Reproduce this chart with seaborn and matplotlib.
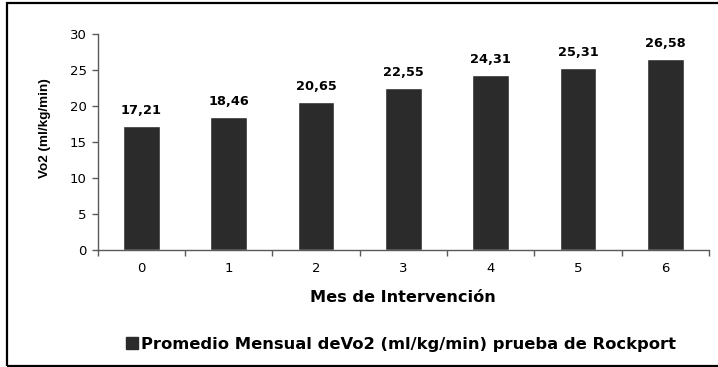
import matplotlib
matplotlib.use("Agg")
import matplotlib.pyplot as plt
from matplotlib.patches import Patch, Rectangle
import pandas as pd
import seaborn as sns

# Monthly VO2 averages from the Rockport walking test
months = ["0", "1", "2", "3", "4", "5", "6"]
vo2 = [17.21, 18.46, 20.65, 22.55, 24.31, 25.31, 26.58]
y_ticks = [0, 5, 10, 15, 20, 25, 30]

x_label = "Mes de Intervención"
y_label = "Vo2 (ml/kg/min)"
series_label = "Promedio Mensual deVo2 (ml/kg/min) prueba de Rockport"

sns.set_style("white")
plt.rcParams["font.family"] = ["DejaVu Sans"]
plt.rcParams["text.color"] = "black"
plt.rcParams["axes.labelcolor"] = "black"

bar_color = "#2b2b2b"
axis_color = "#5a5a5a"

df = pd.DataFrame({"mes": months, "vo2": vo2})

W, H = 718, 367
fig = plt.figure(figsize=(W / 100, H / 100), dpi=100)
ax = fig.add_axes([97.7 / W, 1 - 250 / H, (709 - 97.7) / W, (250 - 34.3) / H])

sns.barplot(data=df, x="mes", y="vo2", order=months, color=bar_color,
            width=0.42, saturation=1, ax=ax)

ax.set_xlim(-0.5, len(months) - 0.5)
ax.set_ylim(0, 30)
ax.set_yticks(y_ticks)
ax.set_yticklabels([str(t) for t in y_ticks])

# Ticks between categories on the x axis, outward ticks on the y axis
ax.set_xticks([i - 0.5 for i in range(len(months) + 1)], minor=True)
ax.tick_params(axis="x", which="major", length=0, pad=9, labelsize=9.5,
               labelcolor="black")
ax.tick_params(axis="x", which="minor", length=4, width=1, color=axis_color,
               direction="out")
ax.tick_params(axis="y", which="major", length=4, width=1, color=axis_color,
               direction="out", pad=4, labelsize=9.5, labelcolor="black")
ax.tick_params(left=True, bottom=True, which="both")

for side in ["top", "right"]:
    ax.spines[side].set_visible(False)
for side in ["left", "bottom"]:
    ax.spines[side].set_color(axis_color)
    ax.spines[side].set_linewidth(1)

ax.set_xlabel(x_label, fontsize=11.6, fontweight="bold", color="black")
ax.xaxis.set_label_coords(0.5, (250 - 298) / (250 - 34.3))
ax.xaxis.label.set_verticalalignment("center")

ax.set_ylabel(y_label, fontsize=9.7, fontweight="bold", color="black",
              family=["Liberation Sans", "DejaVu Sans"])
ax.yaxis.set_label_coords((45 - 97.7) / (709 - 97.7), (250 - 128) / (250 - 34.3))
ax.yaxis.label.set_verticalalignment("center")

# Value labels above each bar
for i, v in enumerate(vo2):
    ax.annotate(f"{v:.2f}".replace(".", ","), xy=(i, v), xytext=(0, 8.5),
                textcoords="offset points", ha="center", va="baseline",
                fontsize=9.3, fontweight="bold", color="black")

handle = Patch(facecolor=bar_color, edgecolor=bar_color)
fig.legend(handles=[handle], labels=[series_label], loc="center left",
           bbox_to_anchor=(126 / W, 1 - 344 / H), frameon=False,
           borderpad=0, borderaxespad=0, handlelength=0.72, handleheight=0.7,
           handletextpad=0.22, labelcolor="black",
           prop={"size": 11.8, "weight": "bold"})

# Frame around the chart area (open on the right edge of the image)
fig.patches.append(Rectangle((6.5 / W, 1.5 / H), 1.2, 1 - 4 / H,
                             transform=fig.transFigure, fill=False,
                             edgecolor="black", linewidth=1.6))

fig.savefig("out.png", dpi=100)
